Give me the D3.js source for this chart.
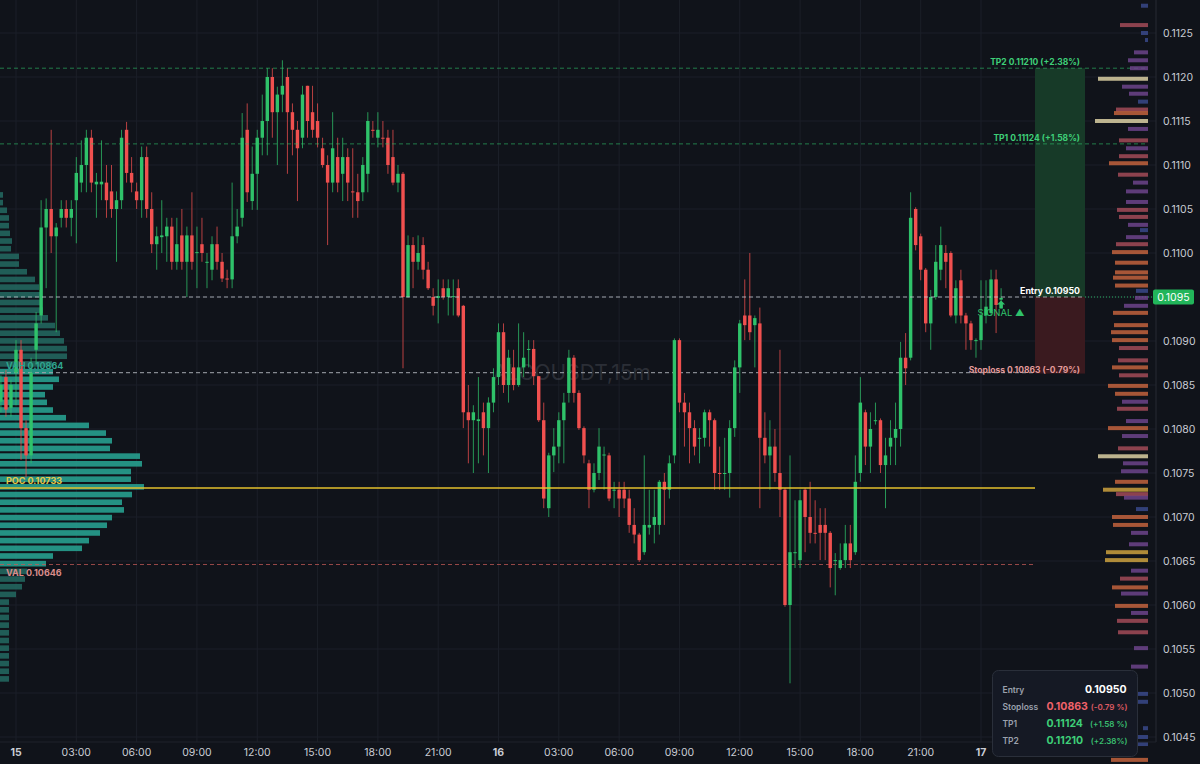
<!DOCTYPE html>
<html lang="en">
<head>
<meta charset="utf-8" />
<title>ALGOUSDT 15m</title>
<script src="https://cdnjs.cloudflare.com/ajax/libs/d3/7.8.5/d3.min.js"></script>
<style>
  html, body { margin: 0; padding: 0; background: #10131a; }
  svg { display: block; font-family: Inter, "Noto Sans", sans-serif; }
  .grid line { stroke: #1b1f28; stroke-width: 1; }
  .ylab { fill: #c9ccd4; font-size: 10.5px; }
  .xlab { fill: #c9ccd4; font-size: 10.5px; }
  .lvl { font-size: 8.5px; font-weight: 700; }
</style>
</head>
<body>
<script>
const symbol = "ALGOUSDT,15m";
const firstBar = "2024-01-14T23:15:00Z";
const barMinutes = 15;

// 15m candles, first one 14th 23:15
const opens = [
  0.10831,0.10859,0.10824,0.10864,0.10890,0.10801,0.10770,0.10890,0.10929,0.11029,0.11050,0.11019,0.11040,
  0.11050,0.11040,0.11060,0.11080,0.11100,0.11131,0.11078,0.11078,0.11080,0.11070,
  0.11050,0.11060,0.11140,0.11091,0.11070,0.11060,0.11109,0.11050,0.11010,0.11018,
  0.11019,0.11030,0.10990,0.11020,0.10990,0.11020,0.11000,0.11010,0.10989,0.10981,
  0.11010,0.10990,0.10971,0.10970,0.11019,0.11040,0.11140,0.11059,0.11090,0.11131,
  0.11150,0.11200,0.11160,0.11180,0.11200,0.11160,0.11140,0.11131,0.11190,0.11160,
  0.11150,0.11119,0.11100,0.11080,0.11109,0.11090,0.11109,0.11070,0.11069,0.11069,
  0.11090,0.11140,0.11131,0.11131,0.11131,0.11109,0.11080,0.11090,0.10950,0.11009,
  0.10990,0.11009,0.10981,0.10950,0.10949,0.10960,0.10950,0.10950,0.10960,0.10940,
  0.10819,0.10810,0.10809,0.10819,0.10801,0.10830,0.10859,0.10910,0.10850,0.10870,
  0.10850,0.10870,0.10890,0.10891,0.10860,0.10810,0.10710,0.10770,0.10780,0.10810,
  0.10841,0.10881,0.10841,0.10801,0.10761,0.10731,0.10750,0.10770,0.10770,0.10730,
  0.10731,0.10731,0.10721,0.10691,0.10680,0.10660,0.10688,0.10691,0.10691,0.10740,
  0.10731,0.10770,0.10901,0.10830,0.10819,0.10801,0.10789,0.10790,0.10819,0.10810,
  0.10750,0.10749,0.10750,0.10801,0.10870,0.10929,0.10929,0.10918,0.10920,0.10790,
  0.10770,0.10780,0.10750,0.10731,0.10600,0.10659,0.10651,0.10731,0.10700,0.10682,
  0.10691,0.10691,0.10682,0.10650,0.10642,0.10651,0.10670,0.10660,0.10750,0.10819,
  0.10780,0.10809,0.10810,0.10759,0.10780,0.10790,0.10800,0.10881,0.10881,0.11050,
  0.11019,0.10981,0.10920,0.10950,0.10981,0.11000,0.11000,0.10929,0.10969,0.10929,
  0.10920,0.10900,0.10901,0.10929,0.10932,0.10970,0.10947
];
const highs = [
  0.10861,0.10867,0.10856,0.10901,0.10901,0.10810,0.10881,0.10933,0.11060,0.11062,0.11140,0.11034,0.11060,
  0.11060,0.11060,0.11109,0.11128,0.11140,0.11140,0.11091,0.11128,0.11100,0.11100,
  0.11070,0.11140,0.11149,0.11109,0.11080,0.11121,0.11121,0.11069,0.11030,0.11060,
  0.11040,0.11040,0.11040,0.11050,0.11030,0.11069,0.11030,0.11040,0.11000,0.11019,
  0.11030,0.11000,0.10981,0.11080,0.11050,0.11159,0.11170,0.11121,0.11140,0.11180,
  0.11210,0.11210,0.11189,0.11219,0.11210,0.11170,0.11150,0.11190,0.11190,0.11190,
  0.11170,0.11131,0.11111,0.11160,0.11131,0.11131,0.11119,0.11119,0.11090,0.11109,
  0.11160,0.11150,0.11160,0.11150,0.11140,0.11140,0.11100,0.11092,0.11020,0.11018,
  0.11020,0.11018,0.10990,0.10960,0.10970,0.10970,0.10970,0.10970,0.10970,0.10941,
  0.10850,0.10827,0.10859,0.10830,0.10836,0.10869,0.10920,0.10920,0.10890,0.10890,
  0.10920,0.10910,0.10901,0.10901,0.10860,0.10830,0.10773,0.10801,0.10819,0.10841,
  0.10890,0.10884,0.10844,0.10803,0.10765,0.10761,0.10801,0.10780,0.10773,0.10740,
  0.10740,0.10740,0.10731,0.10710,0.10682,0.10770,0.10731,0.10731,0.10742,0.10750,
  0.10770,0.10903,0.10903,0.10841,0.10830,0.10810,0.10801,0.10822,0.10822,0.10812,
  0.10780,0.10790,0.10810,0.10878,0.10924,0.10970,0.11000,0.10929,0.10938,0.10819,
  0.10810,0.10800,0.10890,0.10733,0.10770,0.10719,0.10731,0.10733,0.10740,0.10719,
  0.10710,0.10710,0.10684,0.10659,0.10670,0.10691,0.10691,0.10770,0.10859,0.10822,
  0.10819,0.10830,0.10812,0.10790,0.10810,0.10830,0.10899,0.10909,0.11069,0.11052,
  0.11022,0.10983,0.10958,0.11009,0.11030,0.11009,0.11002,0.10969,0.10981,0.10932,
  0.10923,0.10903,0.10969,0.10969,0.10981,0.10981,0.10960
];
const lows = [
  0.10819,0.10814,0.10814,0.10827,0.10765,0.10745,0.10761,0.10873,0.10920,0.10960,0.11000,0.10910,0.11029,
  0.11029,0.11019,0.11011,0.11069,0.11069,0.11069,0.11040,0.11060,0.11040,0.11040,
  0.10990,0.11050,0.11080,0.11069,0.11050,0.11040,0.11040,0.11000,0.10981,0.11000,
  0.10990,0.10981,0.10981,0.10981,0.10950,0.10981,0.10960,0.10990,0.10960,0.10969,
  0.10981,0.10967,0.10960,0.10960,0.11011,0.11030,0.11058,0.11049,0.11049,0.11111,
  0.11111,0.11131,0.11100,0.11160,0.11090,0.11111,0.11059,0.11119,0.11131,0.11131,
  0.11120,0.11097,0.11009,0.11069,0.11069,0.11059,0.11059,0.11040,0.11040,0.11059,
  0.11069,0.11131,0.11120,0.11120,0.11090,0.11077,0.11069,0.10869,0.10949,0.10960,
  0.10981,0.10970,0.10958,0.10929,0.10920,0.10947,0.10929,0.10929,0.10927,0.10801,
  0.10761,0.10750,0.10761,0.10770,0.10750,0.10819,0.10850,0.10841,0.10830,0.10844,
  0.10848,0.10859,0.10870,0.10850,0.10808,0.10710,0.10700,0.10751,0.10761,0.10761,
  0.10830,0.10830,0.10799,0.10761,0.10710,0.10728,0.10742,0.10731,0.10718,0.10710,
  0.10700,0.10710,0.10682,0.10670,0.10649,0.10657,0.10680,0.10670,0.10680,0.10691,
  0.10721,0.10761,0.10819,0.10780,0.10761,0.10770,0.10761,0.10780,0.10780,0.10731,
  0.10731,0.10731,0.10722,0.10791,0.10841,0.10901,0.10901,0.10870,0.10710,0.10761,
  0.10731,0.10740,0.10700,0.10598,0.10511,0.10642,0.10642,0.10660,0.10670,0.10670,
  0.10651,0.10651,0.10620,0.10611,0.10640,0.10642,0.10642,0.10657,0.10740,0.10759,
  0.10750,0.10805,0.10750,0.10710,0.10759,0.10759,0.10780,0.10850,0.10878,0.11003,
  0.10969,0.10910,0.10890,0.10947,0.10969,0.10960,0.10927,0.10920,0.10920,0.10890,
  0.10890,0.10881,0.10890,0.10920,0.10929,0.10909,0.10937
];
const closes = [
  0.10850,0.10822,0.10850,0.10890,0.10801,0.10770,0.10864,0.10920,0.11029,0.11050,0.11019,0.11029,0.11050,
  0.11040,0.11050,0.11091,0.11100,0.11131,0.11080,0.11081,0.11081,0.11060,0.11050,
  0.11060,0.11131,0.11091,0.11080,0.11060,0.11109,0.11050,0.11010,0.11019,0.11020,
  0.11030,0.10990,0.11010,0.10990,0.11020,0.10990,0.11001,0.11000,0.10990,0.11010,
  0.10990,0.10971,0.10970,0.11019,0.11030,0.11131,0.11069,0.11090,0.11131,0.11150,
  0.11200,0.11160,0.11180,0.11190,0.11160,0.11140,0.11119,0.11180,0.11150,0.11140,
  0.11131,0.11100,0.11080,0.11119,0.11080,0.11109,0.11080,0.11069,0.11059,0.11100,
  0.11150,0.11139,0.11140,0.11130,0.11100,0.11080,0.11090,0.10950,0.11009,0.10990,
  0.11000,0.10981,0.10960,0.10940,0.10951,0.10950,0.10960,0.10951,0.10929,0.10819,
  0.10810,0.10819,0.10811,0.10801,0.10830,0.10859,0.10910,0.10850,0.10881,0.10850,
  0.10870,0.10881,0.10891,0.10860,0.10810,0.10721,0.10770,0.10780,0.10810,0.10830,
  0.10881,0.10841,0.10801,0.10770,0.10731,0.10750,0.10780,0.10771,0.10721,0.10731,
  0.10721,0.10721,0.10691,0.10680,0.10651,0.10691,0.10691,0.10700,0.10740,0.10731,
  0.10761,0.10901,0.10830,0.10819,0.10801,0.10780,0.10790,0.10819,0.10810,0.10750,
  0.10749,0.10750,0.10801,0.10870,0.10920,0.10918,0.10910,0.10926,0.10790,0.10770,
  0.10780,0.10750,0.10731,0.10600,0.10660,0.10660,0.10719,0.10700,0.10682,0.10681,
  0.10682,0.10682,0.10642,0.10651,0.10651,0.10670,0.10651,0.10740,0.10830,0.10780,
  0.10800,0.10810,0.10759,0.10770,0.10790,0.10800,0.10881,0.10869,0.11040,0.11009,
  0.10981,0.10920,0.10950,0.10990,0.11009,0.10990,0.10929,0.10960,0.10929,0.10920,
  0.10901,0.10901,0.10929,0.10939,0.10970,0.10941,0.10949
];

// trade levels
const entry = 0.10950, stoploss = 0.10863, tp1 = 0.11124, tp2 = 0.11210;
const slText = "(-0.79%)", tp1Text = "(+1.58%)", tp2Text = "(+2.38%)";
// session volume profile
const vah = 0.10864, poc = 0.10733, val = 0.10646;
const sessionTop = 0.11066, sessionStep = 0.0000873;
const sessionVol = [3,3,7,9,9,10,12,11,19,19,27,35,39,40,40,43,48,55,60,64,67,67,
  52,53,59,53,45,47,53,66,89,106,112,110,140,142,131,131,144,132,122,124,112,107,100,89,82,
  53,46,27,25,22,16,9,9,9,9,9,9,9,9,9,9,9];
// visible range volume at the right edge
const rightLevels = [0.11281,0.11259,0.11250,0.11242,0.11228,0.11219,0.11210,0.11198,0.11189,0.11181,
  0.11172,0.11163,0.11159,0.11150,0.11141,0.11128,0.11119,0.11110,0.11102,0.11089,
  0.11080,0.11070,0.11058,0.11049,0.11041,0.11032,0.11026,0.11018,0.11010,0.11001,
  0.10989,0.10978,0.10972,0.10963,0.10957,0.10949,0.10940,0.10932,0.10918,0.10910,
  0.10901,0.10892,0.10878,0.10870,0.10861,0.10849,0.10840,0.10831,0.10823,0.10809,
  0.10801,0.10792,0.10778,0.10769,0.10761,0.10752,0.10740,0.10731,0.10726,0.10722,
  0.10709,0.10700,0.10691,0.10682,0.10669,0.10660,0.10651,0.10639,0.10630,0.10620,
  0.10613,0.10599,0.10591,0.10582,0.10569,0.10551,0.10530,0.10499,0.10490,0.10460,
  0.10450,0.10442,0.10424];
const rightVol = [7,28,7,3,14,20,18,50,26,19,
  10,32,34,53,20,29,22,29,39,30,
  15,22,22,31,29,20,8,22,32,36,
  33,33,35,33,12,13,24,35,34,37,
  36,29,30,36,29,40,33,26,31,22,
  40,26,30,50,25,27,33,45,32,24,
  12,36,35,17,19,42,43,17,28,36,
  27,33,17,31,30,14,17,10,10,5,
  10,10,37];
const priceTicks = [0.1125,0.1120,0.1115,0.1110,0.1105,0.1100,0.1095,0.1090,0.1085,
  0.1080,0.1075,0.1070,0.1065,0.1060,0.1055,0.1050,0.1045];

const W = 1200, H = 764;
const plotR = 1148, axisX = 1156, plotB = 742;
const boxL = 1035, boxR = 1085;
const up = "#2fc26a", down = "#f0504f";

const svg = d3.select("body").append("svg").attr("width", W).attr("height", H);
svg.append("rect").attr("width", W).attr("height", H).attr("fill", "#10131a");

const x = d3.scaleUtc()
  .domain([new Date("2024-01-15T00:00:00Z"), new Date("2024-01-17T00:00:00Z")])
  .range([16, 981]);
const y = d3.scaleLinear().domain([0.1045, 0.1125]).range([737, 33]);

const t0 = new Date(firstBar).getTime();
const bars = opens.map((o, i) => ({
  t: new Date(t0 + i * barMinutes * 60000),
  o: o, h: highs[i], l: lows[i], c: closes[i]
}));
const step = x(new Date(t0 + barMinutes * 60000)) - x(new Date(t0));
const bw = step * 0.68;

// grid
const timeTicks = x.ticks(d3.utcHour.every(3));
const grid = svg.append("g").attr("class", "grid");
grid.selectAll(".v").data(timeTicks).join("line")
  .attr("x1", d => x(d)).attr("x2", d => x(d)).attr("y1", 0).attr("y2", plotB);
grid.selectAll(".h").data(priceTicks).join("line")
  .attr("x1", 0).attr("x2", axisX).attr("y1", d => y(d)).attr("y2", d => y(d));

// watermark
svg.append("text").attr("x", 572).attr("y", 380).attr("text-anchor", "middle")
  .attr("font-size", 21).attr("fill", "#8a8f9a").attr("opacity", 0.22).text(symbol);

// session volume profile (left)
const sx = d3.scaleLinear().domain([0, d3.max(sessionVol)]).range([0, 144]);
svg.append("g").selectAll("rect").data(sessionVol).join("rect")
  .attr("x", 0)
  .attr("y", (d, i) => y(sessionTop - i * sessionStep) - 2.8)
  .attr("width", d => sx(d))
  .attr("height", 5.6)
  .attr("fill", (d, i) => {
    const p = sessionTop - i * sessionStep;
    return p <= vah + 0.00002 && p >= val - 0.00002 ? "#27a08f" : "#22665e";
  })
  .attr("opacity", 0.9);

// trade boxes
svg.append("rect").attr("x", boxL).attr("width", boxR - boxL)
  .attr("y", y(tp2)).attr("height", y(entry) - y(tp2)).attr("fill", "#173a28");
svg.append("rect").attr("x", boxL).attr("width", boxR - boxL)
  .attr("y", y(entry)).attr("height", y(stoploss) - y(entry)).attr("fill", "#3a1a1f");

// profile levels
function hline(p, x1, x2, color, dash, width, op) {
  svg.append("line").attr("x1", x1).attr("x2", x2).attr("y1", y(p)).attr("y2", y(p))
    .attr("stroke", color).attr("stroke-width", width || 1)
    .attr("stroke-dasharray", dash).attr("opacity", op == null ? 1 : op);
}
hline(val, 0, boxL, "#c65b58", "4,3", 1, 0.75);
hline(vah, 0, boxL, "#a3a7ae", "4,3", 1.2, 0.8);

// candles
const cg = svg.append("g");
cg.selectAll("line").data(bars).join("line")
  .attr("x1", d => x(d.t)).attr("x2", d => x(d.t))
  .attr("y1", d => y(d.h)).attr("y2", d => y(d.l))
  .attr("stroke", d => d.c >= d.o ? up : down).attr("stroke-width", 1).attr("opacity", 0.75);
cg.selectAll("rect").data(bars).join("rect")
  .attr("x", d => x(d.t) - bw / 2).attr("width", bw)
  .attr("y", d => y(Math.max(d.o, d.c)))
  .attr("height", d => Math.max(1, Math.abs(y(d.o) - y(d.c))))
  .attr("fill", d => d.c >= d.o ? up : down);

hline(poc, 0, boxL, "#e3c02c", null, 1.6, 1);

// trade lines
hline(tp2, 0, plotR, up, "4,3", 1, 0.6);
hline(tp1, 0, plotR, up, "4,3", 1, 0.6);
hline(entry, 0, boxR, "#cfd3da", "4,3", 1.2, 0.75);
hline(entry, boxR, axisX, up, "1,2", 1, 0.9);

const lbl = svg.append("g").attr("class", "lvl");
lbl.append("text").attr("x", boxR - 5).attr("y", y(tp2) - 3).attr("text-anchor", "end")
  .attr("fill", "#3ecf78").text(`TP2 ${tp2.toFixed(5)} ${tp2Text}`);
lbl.append("text").attr("x", boxR - 5).attr("y", y(tp1) - 3).attr("text-anchor", "end")
  .attr("fill", "#3ecf78").text(`TP1 ${tp1.toFixed(5)} ${tp1Text}`);
lbl.append("text").attr("x", boxR - 5).attr("y", y(entry) - 3).attr("text-anchor", "end")
  .attr("fill", "#ffffff").attr("font-size", 8.8).text(`Entry ${entry.toFixed(5)}`);
lbl.append("text").attr("x", boxR - 5).attr("y", y(stoploss) - 0.5).attr("text-anchor", "end")
  .attr("fill", "#e39a9a").text(`Stoploss ${stoploss.toFixed(5)} ${slText}`);

lbl.append("text").attr("x", 6).attr("y", y(vah) - 4).attr("font-size", 9).attr("fill", "#2fa58f").text(`VAH  ${vah.toFixed(5)}`);
lbl.append("text").attr("x", 6).attr("y", y(poc) - 4).attr("font-size", 9).attr("fill", "#e3c84a").text(`POC  ${poc.toFixed(5)}`);
lbl.append("text").attr("x", 6).attr("y", y(val) + 11).attr("font-size", 9).attr("fill", "#d98c8a").text(`VAL  ${val.toFixed(5)}`);

// signal marker on the last bar
const last = bars[bars.length - 1];
const sxp = x(last.t), syp = y(last.l);
svg.append("path")
  .attr("d", `M${sxp},${syp - 8} l4,4 h-2.2 v4 h-3.6 v-4 h-2.2 z`)
  .attr("fill", up);
svg.append("text").attr("x", sxp).attr("y", syp + 8).attr("text-anchor", "middle")
  .attr("font-size", 9.5).attr("fill", up).text("SIGNAL ▲");

// right volume profile
const rx = d3.scaleLinear().domain([0, d3.max(rightVol)]).range([0, 53]);
const rc = d3.scaleThreshold().domain([13, 28, 33, 41, 48])
  .range(["#3a4a8e", "#70468f", "#a84d5a", "#c9653e", "#d3a63f", "#e3d7a8"]);
svg.append("g").selectAll("rect").data(rightVol).join("rect")
  .attr("x", d => plotR - rx(d)).attr("width", d => rx(d))
  .attr("y", (d, i) => y(rightLevels[i]) - 2).attr("height", 4)
  .attr("fill", d => rc(d)).attr("opacity", 0.82);

// axes
svg.append("line").attr("x1", axisX).attr("x2", axisX).attr("y1", 0).attr("y2", plotB)
  .attr("stroke", "#262a33");
svg.append("line").attr("x1", 0).attr("x2", axisX).attr("y1", plotB).attr("y2", plotB)
  .attr("stroke", "#1e222b");
// the tick under the last-price badge is covered by it
svg.append("g").selectAll("text").data(priceTicks.filter(d => Math.abs(d - entry) > 0.0001)).join("text")
  .attr("class", "ylab").attr("x", 1163).attr("y", d => y(d) + 4).text(d => d.toFixed(4));

const hourFmt = d3.utcFormat("%H:%M"), dayFmt = d3.utcFormat("%-d");
svg.append("g").selectAll("text").data(timeTicks).join("text")
  .attr("class", "xlab").attr("x", d => x(d)).attr("y", 756).attr("text-anchor", "middle")
  .attr("font-weight", d => d.getUTCHours() === 0 ? 700 : 400)
  .attr("fill", d => d.getUTCHours() === 0 ? "#ffffff" : "#c9ccd4")
  .text(d => d.getUTCHours() === 0 ? dayFmt(d) : hourFmt(d));

// last price badge
svg.append("rect").attr("x", 1153).attr("y", y(entry) - 7.5).attr("width", 41).attr("height", 15)
  .attr("rx", 2).attr("fill", "#22b55a");
svg.append("text").attr("x", 1173.5).attr("y", y(entry) + 4).attr("text-anchor", "middle")
  .attr("font-size", 10.5).attr("fill", "#ffffff").text(entry.toFixed(4));

// info panel
const panel = svg.append("g").attr("transform", "translate(992.5,670.5)");
panel.append("rect").attr("width", 145).attr("height", 86).attr("rx", 6)
  .attr("fill", "#151924").attr("stroke", "#2a2f3a");
const rows = [
  ["Entry", entry, null, "#ffffff"],
  ["Stoploss", stoploss, slText.replace("%", " %"), "#f0626a"],
  ["TP1", tp1, tp1Text.replace("%", " %"), "#3ecf78"],
  ["TP2", tp2, tp2Text, "#3ecf78"]
];
rows.forEach((r, i) => {
  const ry = 22 + i * 17;
  panel.append("text").attr("x", 10).attr("y", ry).attr("font-size", 8.5)
    .attr("font-weight", 600).attr("fill", "#9ba1ad").text(r[0]);
  if (i === 0) {
    panel.append("text").attr("x", 134).attr("y", ry).attr("text-anchor", "end")
      .attr("font-size", 10.5).attr("font-weight", 700).attr("fill", r[3]).text(r[1].toFixed(5));
  } else {
    panel.append("text").attr("x", 54).attr("y", ry).attr("font-size", 10.5)
      .attr("font-weight", 700).attr("fill", r[3]).text(r[1].toFixed(5));
    panel.append("text").attr("x", 135).attr("y", ry).attr("text-anchor", "end")
      .attr("font-size", 8).attr("font-weight", 600).attr("fill", r[3]).attr("opacity", 0.9).text(r[2]);
  }
});
</script>
</body>
</html>
